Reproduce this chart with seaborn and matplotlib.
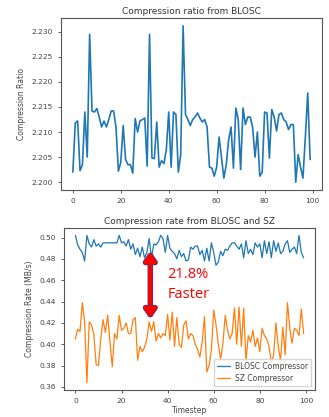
import numpy as np
import pandas as pd
import matplotlib
matplotlib.use("Agg")
import matplotlib.pyplot as plt
import matplotlib.patheffects as pe
import seaborn as sns

# values
timestep = list(range(100))

blosc_ratio = [
    2.2020, 2.2118, 2.2122, 2.2023, 2.2035, 2.2140, 2.2050, 2.2295, 2.2142, 2.2140,
    2.2147, 2.2130, 2.2110, 2.2122, 2.2110, 2.2125, 2.2142, 2.2142, 2.2110, 2.2022,
    2.2040, 2.2113, 2.2045, 2.2035, 2.2035, 2.2018, 2.2127, 2.2100, 2.2122, 2.2125,
    2.2128, 2.2032, 2.2295, 2.2048, 2.2047, 2.2120, 2.2030, 2.2043, 2.2037, 2.2065,
    2.2140, 2.2030, 2.2140, 2.2135, 2.2020, 2.2055, 2.2312, 2.2135, 2.2125, 2.2113,
    2.2125, 2.2130, 2.2138, 2.2128, 2.2120, 2.2125, 2.2110, 2.2030, 2.2028, 2.2012,
    2.2030, 2.2090, 2.2050, 2.2008, 2.2035, 2.2085, 2.2110, 2.2028, 2.2148, 2.2125,
    2.2025, 2.2148, 2.2115, 2.2130, 2.2130, 2.2110, 2.2050, 2.2100, 2.2012, 2.2020,
    2.2140, 2.2138, 2.2048, 2.2145, 2.2130, 2.2102, 2.2135, 2.2138, 2.2125, 2.2120,
    2.2105, 2.2115, 2.2115, 2.2000, 2.2055, 2.2030, 2.2008, 2.2090, 2.2178, 2.2045,
]

blosc_rate = [
    0.502, 0.493, 0.489, 0.486, 0.478, 0.502, 0.494, 0.491, 0.498, 0.492,
    0.494, 0.491, 0.495, 0.495, 0.495, 0.495, 0.495, 0.495, 0.495, 0.502,
    0.495, 0.496, 0.492, 0.498, 0.489, 0.494, 0.484, 0.490, 0.482, 0.491,
    0.481, 0.486, 0.499, 0.481, 0.494, 0.493, 0.496, 0.502, 0.499, 0.486,
    0.502, 0.490, 0.487, 0.485, 0.480, 0.488, 0.482, 0.485, 0.478, 0.479,
    0.491, 0.489, 0.492, 0.492, 0.484, 0.488, 0.478, 0.490, 0.478, 0.495,
    0.486, 0.474, 0.477, 0.487, 0.483, 0.489, 0.488, 0.492, 0.495, 0.495,
    0.492, 0.489, 0.494, 0.481, 0.497, 0.485, 0.489, 0.484, 0.495, 0.491,
    0.494, 0.481, 0.497, 0.485, 0.496, 0.481, 0.497, 0.487, 0.495, 0.485,
    0.487, 0.494, 0.497, 0.486, 0.489, 0.491, 0.485, 0.502, 0.486, 0.481,
]

sz_rate = [
    0.405, 0.414, 0.412, 0.439, 0.421, 0.364, 0.421, 0.418, 0.409, 0.381,
    0.380, 0.405, 0.423, 0.411, 0.427, 0.402, 0.379, 0.410, 0.405, 0.427,
    0.413, 0.415, 0.420, 0.410, 0.410, 0.423, 0.425, 0.385, 0.398, 0.393,
    0.397, 0.405, 0.421, 0.412, 0.421, 0.403, 0.410, 0.406, 0.410, 0.408,
    0.428, 0.404, 0.430, 0.398, 0.425, 0.400, 0.397, 0.418, 0.422, 0.405,
    0.410, 0.408, 0.400, 0.395, 0.388, 0.402, 0.426, 0.374, 0.380, 0.395,
    0.432, 0.418, 0.400, 0.386, 0.401, 0.427, 0.413, 0.405, 0.410, 0.434,
    0.400, 0.435, 0.398, 0.434, 0.384, 0.408, 0.402, 0.413, 0.398, 0.406,
    0.393, 0.415, 0.408, 0.405, 0.398, 0.383, 0.390, 0.420, 0.398, 0.385,
    0.416, 0.390, 0.439, 0.415, 0.401, 0.415, 0.413, 0.408, 0.433, 0.410,
]

series_names = ["BLOSC Compressor", "SZ Compressor"]
speedup_text = "21.8%\nFaster"

sns.set_style("ticks")
plt.rcParams["font.family"] = ["DejaVu Sans"]
plt.rcParams["axes.edgecolor"] = "#555555"
plt.rcParams["xtick.color"] = "#444444"
plt.rcParams["ytick.color"] = "#444444"

fig = plt.figure(figsize=(3.29, 4.17), dpi=100)

# top panel: compression ratio
ax1 = fig.add_axes([0.1854, 0.5444, 0.7933, 0.4125])
df_ratio = pd.DataFrame({"Timestep": timestep, "Compression Ratio": blosc_ratio})
sns.lineplot(data=df_ratio, x="Timestep", y="Compression Ratio", ax=ax1,
             color="#1f77b4", linewidth=1.2)
ax1.set_title("Compression ratio from BLOSC", fontsize=6.5, color="#333333", pad=3)
ax1.set_xlabel("")
ax1.set_ylabel("Compression Ratio", fontsize=5.5, color="#444444")
ax1.set_yticks([2.200, 2.205, 2.210, 2.215, 2.220, 2.225, 2.230])
ax1.yaxis.set_major_formatter(matplotlib.ticker.FormatStrFormatter("%.3f"))
ax1.set_xticks([0, 20, 40, 60, 80, 100])
ax1.tick_params(labelsize=5.4, length=2.5, width=0.6)

# bottom panel: compression rate
ax2 = fig.add_axes([0.1945, 0.0647, 0.763, 0.3885])
df_rate = pd.DataFrame({
    "Timestep": timestep * 2,
    "Rate": blosc_rate + sz_rate,
    "Compressor": [series_names[0]] * 100 + [series_names[1]] * 100,
})
sns.lineplot(data=df_rate, x="Timestep", y="Rate", hue="Compressor", ax=ax2,
             palette=["#1f77b4", "#ff7f0e"], linewidth=0.9)
ax2.set_title("Compression rate from BLOSC and SZ", fontsize=6.5, color="#333333", pad=3)
ax2.set_xlabel("Timestep", fontsize=5.5, color="#444444", labelpad=1)
ax2.set_ylabel("Compression Rate (MB/s)", fontsize=5.5, color="#444444")
ax2.set_yticks([0.36, 0.38, 0.40, 0.42, 0.44, 0.46, 0.48, 0.50])
ax2.yaxis.set_major_formatter(matplotlib.ticker.FormatStrFormatter("%.2f"))
ax2.set_xticks([0, 20, 40, 60, 80, 100])
ax2.tick_params(labelsize=5.4, length=2.5, width=0.6)
leg = ax2.legend(title=None, loc="lower right", fontsize=5.5, frameon=True,
                 handlelength=1.7, borderpad=0.45, labelspacing=0.35,
                 handletextpad=0.6)
for t in leg.get_texts():
    t.set_color("#444444")

# speed-up annotation
ax2.annotate("", xy=(32.5, 0.4244), xytext=(32.5, 0.4865),
             arrowprops=dict(arrowstyle="<|-|>,head_width=0.35,head_length=0.5",
                             color="#ff0000", lw=3, shrinkA=0, shrinkB=0,
                             path_effects=[pe.withStroke(linewidth=4, foreground="#2b4c8c")]))
ax2.text(40, 0.4725, speedup_text, color="#ff0000", fontsize=10.5,
         family=["Open Sans", "DejaVu Sans"], va="top", ha="left", linespacing=1.5)

fig.savefig("out.png", dpi=100)
